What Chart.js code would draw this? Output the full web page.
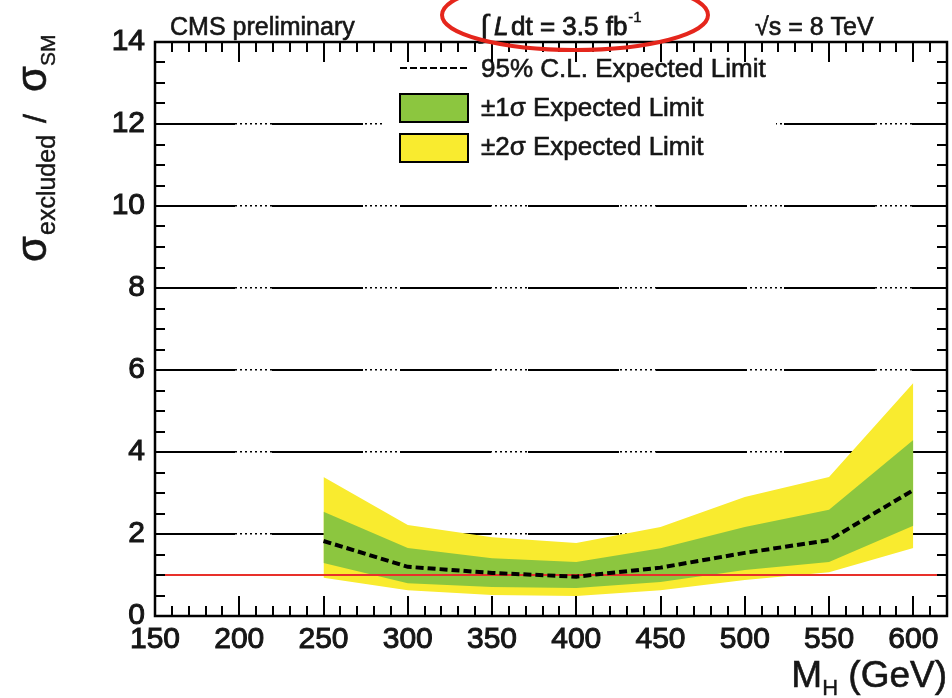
<!DOCTYPE html>
<html><head><meta charset="utf-8">
<script src="https://cdn.jsdelivr.net/npm/chart.js@4/dist/chart.umd.min.js"></script>
<style>html,body{margin:0;padding:0;background:#fff}#wrap{width:952px;height:698px;position:relative}</style>
</head><body><div id="wrap"><canvas id="c" width="952" height="698"></canvas></div>
<script>
// ---- data ----
const massPoints    = [250, 300, 350, 400, 450, 500, 550, 600];
const expectedMedian= [1.83, 1.20, 1.05, 0.96, 1.18, 1.54, 1.85, 3.07];
const plus1Sigma    = [2.54, 1.66, 1.41, 1.32, 1.65, 2.17, 2.59, 4.29];
const minus1Sigma   = [1.29, 0.80, 0.71, 0.68, 0.83, 1.12, 1.32, 2.20];
const plus2Sigma    = [3.39, 2.22, 1.92, 1.78, 2.17, 2.90, 3.39, 5.68];
const minus2Sigma   = [0.93, 0.63, 0.51, 0.49, 0.63, 0.88, 1.07, 1.66];
const smMass        = [150, 620];
const smRatio       = [1, 1];
const xRange        = [150, 620];
const yRange        = [0, 14];
const xTickStep = 50, yTickStep = 2;
const legendLabels  = ['95% C.L. Expected Limit', '\u00B11\u03C3 Expected Limit', '\u00B12\u03C3 Expected Limit'];
const headerLeft = 'CMS preliminary';
const headerRight = '\u221As = 8 TeV';

const GREEN = '#8cc63f', YELLOW = '#f9eb2f', RED = '#e8302a';
const FONT = '"Liberation Sans", Arial, sans-serif';
const INK = '#161616';

const pts = (xs, ys) => xs.map((x, i) => ({x, y: ys[i]}));

const band = (data, fill, color) => ({
  data, fill, backgroundColor: color, borderWidth: 0, pointRadius: 0, tension: 0
});

function txt(ctx, s, x, y, font, sw) {
  ctx.font = font;
  ctx.fillText(s, x, y);
  if (sw) { ctx.lineWidth = sw; ctx.strokeText(s, x, y); }
  return ctx.measureText(s).width;
}

const gridColor = c => (c.tick && c.tick.value > 0 && c.tick.value < 14) ? '#000' : 'rgba(0,0,0,0)';

const decor = {
  id: 'decor',
  afterDraw(chart) {
    const ctx = chart.ctx, a = chart.chartArea;
    const xs = chart.scales.x, ys = chart.scales.y;
    ctx.save();
    ctx.textBaseline = 'alphabetic';
    // legend
    ctx.fillStyle = '#fff';
    ctx.fillRect(384, 53, 392, 114);
    ctx.strokeStyle = '#000'; ctx.lineWidth = 2; ctx.setLineDash([7, 3]);
    ctx.beginPath(); ctx.moveTo(400, 68); ctx.lineTo(467, 68); ctx.stroke();
    ctx.setLineDash([]);
    ctx.fillStyle = GREEN; ctx.fillRect(400, 94, 68, 28);
    ctx.strokeRect(400, 94, 68, 28);
    ctx.fillStyle = YELLOW; ctx.fillRect(400, 134, 68, 28);
    ctx.strokeRect(400, 134, 68, 28);
    ctx.fillStyle = INK; ctx.strokeStyle = INK;
    txt(ctx, legendLabels[0], 481, 77, '26px ' + FONT, 0.6);
    txt(ctx, legendLabels[1], 481, 116, '26px ' + FONT, 0.6);
    txt(ctx, legendLabels[2], 481, 155, '26px ' + FONT, 0.6);

    // inward ticks
    ctx.strokeStyle = '#000'; ctx.lineWidth = 2;
    ctx.beginPath();
    for (let v = xRange[0]; v <= xRange[1] + 1e-6; v += 10) {
      const p = Math.round(xs.getPixelForValue(v));
      const L = (v % 50 === 0) ? 20 : 10;
      ctx.moveTo(p, a.bottom); ctx.lineTo(p, a.bottom - L);
      ctx.moveTo(p, a.top); ctx.lineTo(p, a.top + L);
    }
    for (let v = yRange[0]; v <= yRange[1] + 1e-6; v += 0.5) {
      const p = Math.round(ys.getPixelForValue(v));
      const L = (v % 2 === 0) ? 20 : 10;
      ctx.moveTo(a.left, p); ctx.lineTo(a.left + L, p);
      ctx.moveTo(a.right, p); ctx.lineTo(a.right - L, p);
    }
    ctx.stroke();
    // frame
    ctx.lineWidth = 2.5;
    ctx.strokeRect(a.left, a.top, a.right - a.left, a.bottom - a.top);

    // header
    ctx.fillStyle = INK; ctx.strokeStyle = INK;
    txt(ctx, headerLeft, 170, 35, '25px ' + FONT, 0.6);
    txt(ctx, '\u222B', 480, 37, '32px ' + FONT, 0.4);
    txt(ctx, 'L', 494, 35, 'italic 26px ' + FONT, 0.8);
    let x = 511;
    x += txt(ctx, 'dt = 3.5 fb', x, 35, '26px ' + FONT, 0.8);
    txt(ctx, '-1', x + 1, 22, '15px ' + FONT, 0.4);
    txt(ctx, headerRight, 755, 35, '25px ' + FONT, 0.6);

    // red ellipse
    ctx.strokeStyle = '#e5261c'; ctx.lineWidth = 4;
    ctx.beginPath(); ctx.ellipse(575, 15, 133, 35, 0, 0, Math.PI * 2); ctx.stroke();

    // x title
    ctx.fillStyle = INK; ctx.strokeStyle = INK;
    ctx.font = '37px ' + FONT;
    const wM = ctx.measureText('M').width, wG = ctx.measureText(' (GeV)').width;
    ctx.font = '22px ' + FONT;
    const wH = ctx.measureText('H').width;
    let tx = 947 - wM - wH - wG;
    tx += txt(ctx, 'M', tx, 687, '37px ' + FONT, 0.6);
    tx += txt(ctx, 'H', tx, 695, '22px ' + FONT, 0.4);
    txt(ctx, ' (GeV)', tx, 687, '37px ' + FONT, 0.6);

    // y title (rotated), positions along the text direction
    ctx.translate(46, 262); ctx.rotate(-Math.PI / 2);
    txt(ctx, '\u03C3', 0, 0, '42px ' + FONT, 0.6);
    txt(ctx, 'excluded', 27, 9, '25px ' + FONT, 0.4);
    txt(ctx, '/', 139, 0, '32px ' + FONT, 0.6);
    txt(ctx, '\u03C3', 170, 0, '42px ' + FONT, 0.6);
    txt(ctx, 'SM', 196, 9, '21px ' + FONT, 0.4);
    ctx.restore();
  }
};

new Chart(document.getElementById('c'), {
  type: 'line',
  data: {
    datasets: [
      { data: pts(massPoints, expectedMedian), borderColor: '#000', borderWidth: 4, borderDash: [8, 4],
        pointRadius: 0, fill: false, tension: 0 },
      { data: pts(smMass, smRatio), borderColor: RED, borderWidth: 2, pointRadius: 0, fill: false },
      band(pts(massPoints, plus1Sigma), '+1', GREEN),
      band(pts(massPoints, minus1Sigma), false, GREEN),
      band(pts(massPoints, plus2Sigma), '+1', YELLOW),
      band(pts(massPoints, minus2Sigma), false, YELLOW)
    ]
  },
  options: {
    responsive: false, animation: false, devicePixelRatio: 1,
    layout: { padding: { left: 0, top: 42, right: 5, bottom: 0 } },
    plugins: { legend: { display: false }, tooltip: { enabled: false } },
    scales: {
      x: {
        type: 'linear', min: xRange[0], max: xRange[1],
        afterFit(s) { s.height = 82; },
        grid: { display: false, drawTicks: false },
        border: { display: false },
        ticks: { stepSize: xTickStep, includeBounds: false, padding: 6, color: INK,
                 textStrokeColor: INK, textStrokeWidth: 1,
                 maxRotation: 0, autoSkip: false, font: { family: FONT, size: 30 } }
      },
      y: {
        min: yRange[0], max: yRange[1], z: 1, position: 'left',
        afterFit(s) { s.width = 155; },
        grid: { drawTicks: false, lineWidth: 2, color: gridColor },
        border: { display: false, dash: [91, 37], dashOffset: 11 },
        ticks: { stepSize: yTickStep, padding: 10, color: INK,
                 textStrokeColor: INK, textStrokeWidth: 1, font: { family: FONT, size: 30 } }
      },
      yDots: {
        min: yRange[0], max: yRange[1], z: 1, position: 'left',
        afterFit(s) { s.width = 0; },
        grid: { drawTicks: false, lineWidth: 1.5, color: gridColor },
        border: { display: false, dash: [2, 3] },
        ticks: { display: false, stepSize: yTickStep }
      }
    }
  },
  plugins: [decor]
});
</script>
</body></html>
